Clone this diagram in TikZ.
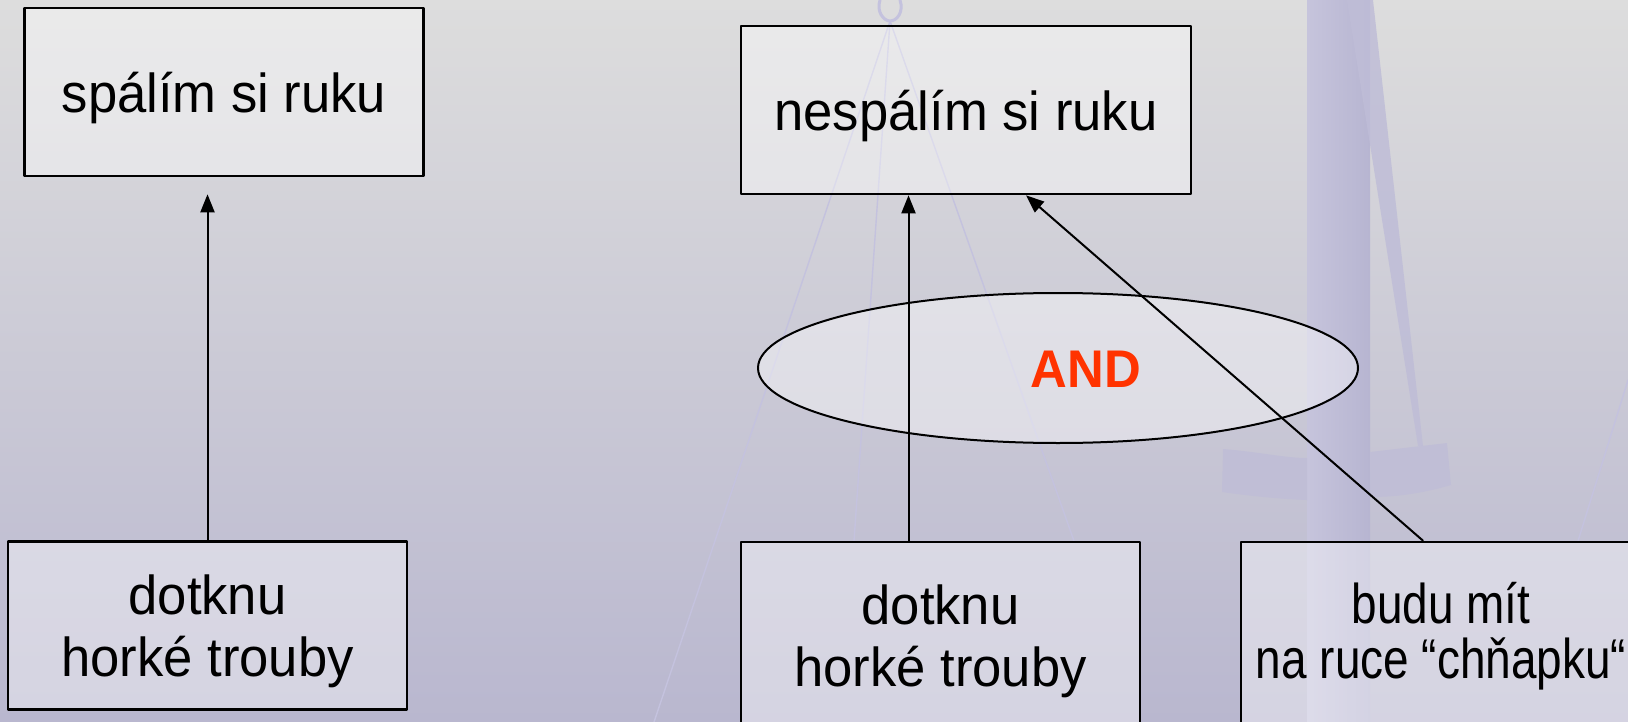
\documentclass[tikz,border=0pt]{standalone}
\usepackage{fontspec}
\setmainfont[FakeStretch=0.96]{Liberation Sans}
\newfontfamily\narrowfont[FakeStretch=0.82]{Liberation Sans}
\usetikzlibrary{arrows.meta,shapes.geometric}
\definecolor{bgtop}{HTML}{DDDDDD}
\definecolor{bgmid}{HTML}{D7D7DC}
\definecolor{bgbot}{HTML}{B9B7CF}
\definecolor{polel}{HTML}{C6C4DC}
\definecolor{poler}{HTML}{B7B5D1}
\definecolor{scalecol}{HTML}{BFBDD7}
\definecolor{stringcol}{HTML}{C4C2DE}
\definecolor{andred}{HTML}{FF3300}

\begin{document}
\begin{tikzpicture}[line cap=round,line join=round,x=0.5pt,y=-0.5pt,
    >={Triangle[length=9pt,width=7pt]},
    box/.style={draw,line width=1.3pt,fill=white,fill opacity=0.4,text opacity=1,
      minimum width=199.5pt,minimum height=84pt,inner sep=0pt,align=center,
      text depth=-2pt,font=\fontsize{27.4}{31}\selectfont},
    andbox/.style={draw,ellipse,line width=1pt,fill=white,fill opacity=0.4,
      minimum width=300pt,minimum height=75pt,inner sep=0pt},
    link/.style={->,line width=1pt}]
      \clip (0,0) rectangle (1628,722);
      \shade[top color=bgtop,middle color=bgmid,bottom color=bgbot] (0,0) rectangle (1628,722);

      % scale in the background
      \shade[left color=polel,right color=poler] (1307,0) rectangle (1370,722);
      \fill[scalecol,opacity=0.85] (1347,0) -- (1373,0) -- (1423,446) -- (1418,446) -- cycle;
      \fill[scalecol,opacity=0.8] (1223,449) .. controls (1260,452) and (1285,458) .. (1307,458)
            -- (1307,500) .. controls (1280,499) and (1250,496) .. (1222,492) -- cycle;
      \fill[scalecol,opacity=0.8] (1370,452) -- (1447,443) -- (1451,485)
            .. controls (1420,494) and (1395,497) .. (1370,497) -- cycle;
      \draw[stringcol,line width=1.5pt] (880,0) .. controls (876,12) and (884,21) .. (890,21)
            .. controls (897,21) and (904,12) .. (900,0);
      \foreach \x/\y in {654/722,854/541,1074/541}{
        \draw[stringcol,line width=0.7pt] (890,21) -- (\x,\y);
      }
      \draw[stringcol,line width=0.7pt] (1628,380) -- (1578,541);

      \node[box] (burn) at (224,92) {spálím si ruku};
      \node[box,minimum width=225pt] (noburn) at (966,110) {nespálím si ruku};
      \node[box] (touchA) at (207.5,625.5) {dotknu\\horké trouby};
      \node[box,minimum height=98pt,text depth=4pt] (touchB) at (940.5,640) {dotknu\\horké trouby};
      \node[box,minimum width=200pt,minimum height=98pt,text depth=10pt,
            font=\narrowfont\fontsize{28}{27.5}\selectfont] (glove) at (1441,640)
            {budu mít\\na ruce “chňapku“};

      \node[andbox] (andel) at (1058,368) {};
      \node[text=andred,font=\bfseries\fontsize{26.5}{30}\selectfont] (andlab) at (1086,369) {AND};

      \draw[link,shorten >=8.5pt] (touchA.north) -- (touchA.north |- burn.south);
      \draw[link] ([xshift=-16pt]touchB.north) -- ([xshift=-16pt]touchB.north |- noburn.south);
      \draw[link] ([xshift=-9pt]glove.north) -- ([xshift=30pt]noburn.south);
\end{tikzpicture}
\end{document}
